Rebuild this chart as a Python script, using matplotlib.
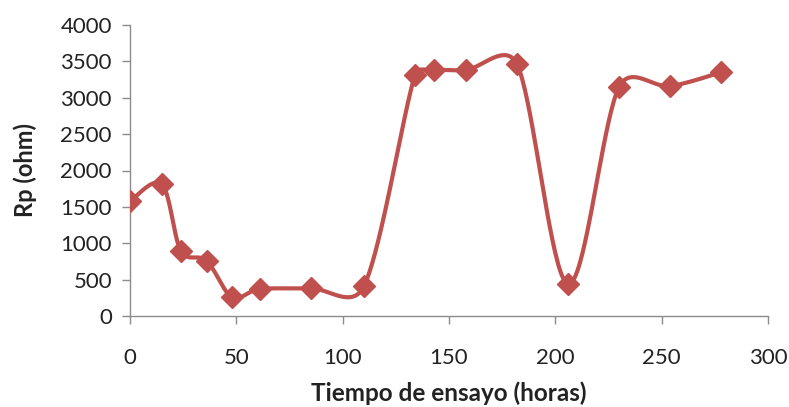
import numpy as np
import matplotlib
matplotlib.use("Agg")
import matplotlib.pyplot as plt

# Polarization resistance over test time
tiempo_h = [0, 15, 24, 36, 48, 61, 85, 110, 134, 143, 158, 182, 206, 230, 254, 278]
rp_ohm = [1580, 1810, 890, 760, 260, 370, 380, 410, 3310, 3380, 3380, 3460, 440, 3150, 3160, 3350]

x_ticks = [0, 50, 100, 150, 200, 250, 300]
y_ticks = [0, 500, 1000, 1500, 2000, 2500, 3000, 3500, 4000]

color = "#C0504D"
axis_grey = "#8C8C8C"
text_col = "#222222"
font = ["Lato", "DejaVu Sans"]

fig = plt.figure(figsize=(7.89, 4.07), dpi=100)
ax = fig.add_axes([130 / 789, 1 - 316 / 407, 638 / 789, 291 / 407])
ax.set_xlim(0, 300)
ax.set_ylim(0, 4000)


def smooth_curve(ax, x, y, n=40, limit=0.5):
    """Cubic Bezier smoothing through every point, computed in display space
    with control handles capped relative to the segment length."""
    to_disp = ax.transData
    p = to_disp.transform(np.column_stack([x, y]).astype(float))
    m = len(p)
    pts = []
    for i in range(m - 1):
        p0, p3 = p[i], p[i + 1]
        prev = p[i - 1] if i > 0 else p[i]
        nxt = p[i + 2] if i + 2 < m else p[i + 1]
        seg_len = np.linalg.norm(p3 - p0)
        d1 = (p3 - prev) / 6.0
        d2 = (nxt - p0) / 6.0
        for d in (d1, d2):
            ln = np.linalg.norm(d)
            if ln > limit * seg_len and ln > 0:
                d *= limit * seg_len / ln
        c1 = p0 + d1
        c2 = p3 - d2
        t = np.linspace(0, 1, n)[:, None]
        seg = ((1 - t) ** 3) * p0 + 3 * ((1 - t) ** 2) * t * c1 + 3 * (1 - t) * t ** 2 * c2 + t ** 3 * p3
        pts.append(seg if i == 0 else seg[1:])
    s = to_disp.inverted().transform(np.vstack(pts))
    return s[:, 0], s[:, 1]


sx, sy = smooth_curve(ax, tiempo_h, rp_ohm)
ax.plot(sx, sy, color=color, lw=3.0, solid_capstyle="round", zorder=2)
ax.plot(tiempo_h, rp_ohm, ls="none", marker="D", ms=11.5, color=color, zorder=3)

ax.set_xticks(x_ticks)
ax.set_yticks(y_ticks)
ax.set_xticklabels([str(v) for v in x_ticks], fontfamily=font, fontsize=16)
ax.set_yticklabels([str(v) for v in y_ticks], fontfamily=font, fontsize=16)

for side in ("top", "right"):
    ax.spines[side].set_visible(False)
for side in ("left", "bottom"):
    ax.spines[side].set_color(axis_grey)
    ax.spines[side].set_linewidth(1.0)
ax.tick_params(axis="x", direction="out", length=6, width=1, color=axis_grey, pad=17, labelcolor=text_col)
ax.tick_params(axis="y", direction="out", length=6, width=1, color=axis_grey, pad=7, labelcolor=text_col)

fig.text(25 / 789, 1 - 170 / 407, "Rp (ohm)", rotation=90, ha="center", va="center",
         fontfamily=font, fontsize=17, fontweight="bold", color=text_col)
fig.text(449 / 789, 2 / 407, "Tiempo de ensayo (horas)", ha="center", va="bottom",
         fontfamily=font, fontsize=17.5, fontweight="bold", color=text_col)

fig.savefig("out.png", dpi=100)
